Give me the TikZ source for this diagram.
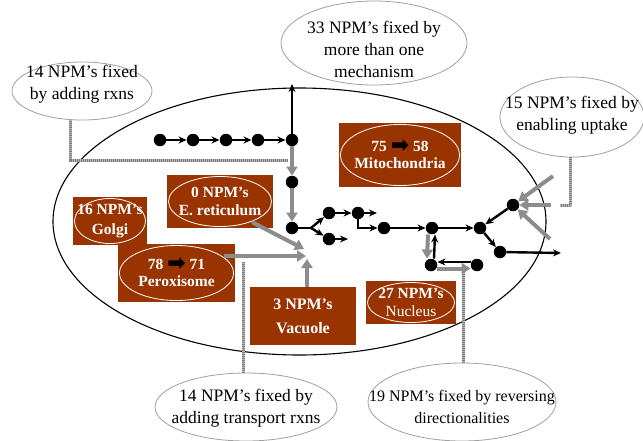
\documentclass[tikz,border=0pt]{standalone}
\usepackage{fontspec}
\setmainfont{Liberation Serif}
\newfontfamily\symbolfont{DejaVu Sans}
\usetikzlibrary{shapes.geometric,arrows.meta,calc}
\definecolor{organ}{HTML}{993300}
\definecolor{fluxgray}{HTML}{8C8C8C}
\definecolor{notegray}{HTML}{A0A0A0}
\definecolor{linkgray}{HTML}{7A7A7A}
\definecolor{linkback}{HTML}{B8B8B8}
\newcommand{\bigarrow}{\smash{\raisebox{-1pt}{\symbolfont\fontsize{22}{17}\selectfont\color{black}➡}}}
\begin{document}
\begin{tikzpicture}[x=1pt,y=-1pt,
  note/.style={ellipse,draw=notegray,line width=0.8pt,fill=white,inner sep=0pt},
  notetext/.style={inner sep=0pt,align=center,font=\fontsize{17.5}{22}\selectfont},
  organ/.style={rectangle,fill=organ,text=white,inner sep=0pt,align=center,
    font=\fontsize{15.5}{17.5}\selectfont\bfseries},
  ring/.style={path picture={\draw[white,line width=0.8pt]
    let \p1=(path picture bounding box.north east),
        \p2=(path picture bounding box.center) in
    (\p2) ellipse [x radius={\x1-\x2-1.5pt},y radius={\y1-\y2-1.5pt}];}},
  met/.style={circle,fill=black,inner sep=0pt,minimum size=12.5pt},
  flux/.style={draw=black,line width=2.4pt,-{Stealth[length=8pt,width=7pt]}},
  gflux/.style={draw=fluxgray,line width=4pt,-{Triangle[length=9pt,width=11pt]}},
  link/.style={draw=linkgray,line width=3pt,dash pattern=on 1pt off 1pt,
    preaction={draw=linkback,solid,line width=3pt}},
]
\useasboundingbox (0,0) rectangle (643,440);

% cell boundary
\draw[line width=1.1pt] (299.5,221.5) ellipse [x radius=246.5,y radius=133.5];

% dotted leaders from the callouts
\coordinate (l1) at (288,160);
\coordinate (l2) at (560,205);
\coordinate (l3) at (243,262);
\coordinate (l4) at (463,270);
\coordinate (n14a) at (82,91);
\coordinate (n15) at (572,117);
\coordinate (n14b) at (246,407);
\coordinate (n19) at (462,402);
\draw[link] ([xshift=-12pt]n14a) |- (l1);
\draw[link] ([xshift=-2pt]n15) |- (l2);
\draw[link] (l3) -- (l3 |- n14b);
\draw[link] (l4) -- (l4 |- n19);

% callouts
\node[note,minimum width=140pt,minimum height=58pt] (c14a) at (n14a) {};
\node[note,minimum width=186pt,minimum height=84pt] (c33) at (374,43) {};
\node[note,minimum width=144pt,minimum height=80pt] (c15) at (n15) {};
\node[note,minimum width=182pt,minimum height=68pt] (c14b) at (n14b) {};
\node[note,minimum width=188pt,minimum height=78pt] (c19) at (n19) {};
\node[notetext] (t14a) at ([yshift=7pt]c14a.center) {14 NPM’s fixed\\by adding rxns};
\node[notetext] (t33) at ([yshift=-6pt]c33.center) {33 NPM’s fixed by\\more than one\\mechanism};
\node[notetext] (t15) at ([yshift=2pt]c15.center) {15 NPM’s fixed by\\enabling uptake};
\node[notetext] (t14b) at ([yshift=-1pt]c14b.center) {14 NPM’s fixed by\\adding transport rxns};
\node[notetext,font=\fontsize{16}{22}\selectfont] (t19) at ([yshift=-5pt]c19.center)
  {19 NPM’s fixed by reversing\\directionalities};

% compartments
\node[organ,ring,minimum width=122pt,minimum height=64pt] (mito) at (400,155)
  {75 \bigarrow\ 58\\Mitochondria};
\node[organ,ring,minimum width=106pt,minimum height=53pt] (er) at (220,201.5)
  {0 NPM’s\\E. reticulum};
\node[organ,ring,minimum width=74pt,minimum height=48pt,
  font=\fontsize{15.5}{19.5}\selectfont\bfseries] (golgi) at (110,221)
  {16 NPM’s\\Golgi};
\node[organ,ring,minimum width=117pt,minimum height=58pt] (perox) at (176.5,273)
  {78 \bigarrow\ 71\\Peroxisome};
\node[organ,minimum width=106pt,minimum height=58pt,
  font=\fontsize{16}{24}\selectfont\bfseries] (vac) at (303,316)
  {3 NPM’s\\Vacuole};
\node[organ,ring,minimum width=90pt,minimum height=43pt] (nuc) at (411,302.5)
  {27 NPM’s\\{\mdseries Nucleus}};

% metabolites
\node[met] (a1) at (160,140) {};
\node[met] (a2) at (193,140) {};
\node[met] (a3) at (226,140) {};
\node[met] (a4) at (258,140) {};
\node[met] (a5) at (292,140) {};
\node[met] (b1) at (292,182) {};
\node[met] (b2) at (292,228) {};
\node[met] (c1) at (329,213) {};
\node[met] (c2) at (329,239) {};
\node[met] (d1) at (358,213) {};
\node[met] (e1) at (384,228) {};
\node[met] (f1) at (432,228) {};
\node[met] (g1) at (480,228) {};
\node[met] (h1) at (513,205) {};
\node[met] (h2) at (500,252) {};
\node[met] (f2) at (431,265) {};
\node[met] (f3) at (477,265) {};

\coordinate (up) at (292,84);
\coordinate (br) at (311,228);
\coordinate (d1out) at (377,213);
\coordinate (c2out) at (348,239);
\coordinate (h2out) at (561,253);
\coordinate (u1) at (553,176);
\coordinate (u2) at (551,205);
\coordinate (u3) at (550,239);
\coordinate (hubE) at (304,249);
\coordinate (hubP) at (306,256);
\coordinate (hubV) at (307,259);

% reactions
\draw[flux] (a1) -- (a2);
\draw[flux] (a2) -- (a3);
\draw[flux] (a3) -- (a4);
\draw[flux] (a4) -- (a5);
\draw[flux] (a5) -- (up);
\draw[gflux] (a5) -- (b1);
\draw[gflux] (b1) -- (b2);
\draw[line width=2.4pt] (b2) -- (br);
\draw[flux] (br) -- (c1);
\draw[flux] (br) -- (c2);
\draw[flux] (c1) -- (d1);
\draw[flux] (d1) -- (d1out);
\draw[flux] (c2) -- (c2out);
\draw[flux] (d1) |- (e1);
\draw[flux] (e1) -- (f1);
\draw[flux] (f1) -- (g1);
\draw[flux] (h1) -- (g1);
\draw[flux] (g1) -- (h2);
\draw[flux] (h2) -- (h2out);
\draw[gflux] (u1) -- (h1);
\draw[gflux] (u2) -- (h1);
\draw[gflux] (u3) -- (h1);
\draw[gflux] ([xshift=-4pt]f1.south) -- ([xshift=-4pt]f2.north);
\draw[flux] ([xshift=3pt]f2.north) -- ([xshift=3pt]f1.south);
\draw[gflux] ([yshift=-3.5pt]f2.east) -- ([yshift=-3.5pt]f3.west);
\draw[flux] ([yshift=3pt]f3.west) -- ([yshift=3pt]f2.east);

% transport into the cytosol
\draw[gflux] ($(er.south east)+(-21,-6)$) -- (hubE);
\draw[gflux] ($(perox.east)+(-11,-17)$) -- (hubP);
\draw[gflux] ([xshift=4pt]vac.north) -- (hubV);
\end{tikzpicture}
\end{document}
